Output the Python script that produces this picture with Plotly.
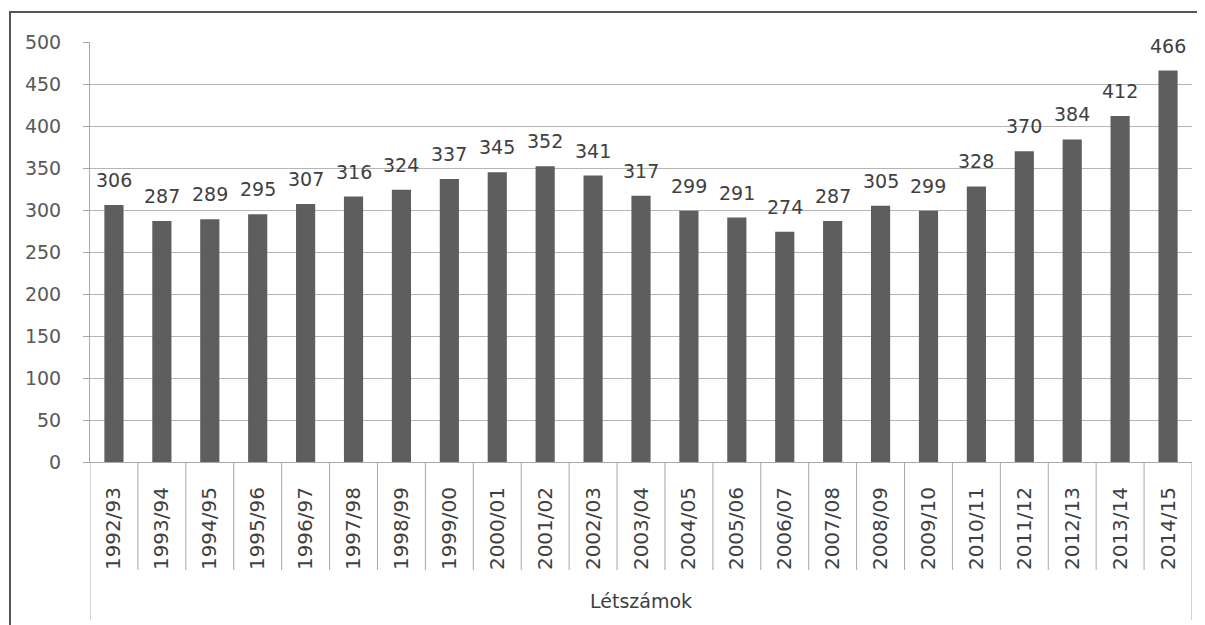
import plotly.graph_objects as go

categories = ["1992/93", "1993/94", "1994/95", "1995/96", "1996/97", "1997/98",
              "1998/99", "1999/00", "2000/01", "2001/02", "2002/03", "2003/04",
              "2004/05", "2005/06", "2006/07", "2007/08", "2008/09", "2009/10",
              "2010/11", "2011/12", "2012/13", "2013/14", "2014/15"]
values = [306, 287, 289, 295, 307, 316, 324, 337, 345, 352, 341, 317,
          299, 291, 274, 287, 305, 299, 328, 370, 384, 412, 466]
group_label = "Létszámok"
y_ticks = [0, 50, 100, 150, 200, 250, 300, 350, 400, 450, 500]

FONT = "DejaVu Sans"
OFF = 8  # page body margin
W, H = 1205 - OFF, 625 - OFF
L, T = 90 - OFF, 42 - OFF
R = W - (1192 - OFF)
B = H - (462 - OFF)
pw = W - L - R
ph = H - T - B

def py(pix):
    # screen pixel y -> paper y
    return (462 - pix) / ph

def pxx(pix):
    # screen pixel x -> paper x
    return (pix - 90) / pw

fig = go.Figure()
fig.add_trace(go.Bar(
    x=categories, y=values,
    marker=dict(color="#5e5e5e", line=dict(width=0)),
))

annotations = []
for c, v in zip(categories, values):
    annotations.append(dict(x=c, y=v, xref="x", yref="y", text=str(v),
                            showarrow=False, xanchor="center", yanchor="bottom",
                            yshift=12,
                            font=dict(family=FONT, size=19, color="#404040")))
annotations.append(dict(text=group_label, xref="paper", yref="paper",
                        x=0.5, y=py(601), xanchor="center", yanchor="middle",
                        showarrow=False,
                        font=dict(family=FONT, size=19, color="#404040")))

shapes = []
n = len(categories)
for i in range(n + 1):
    bottom = py(620) if i in (0, n) else py(570)
    shapes.append(dict(type="line", xref="x", yref="paper",
                       x0=i - 0.5, x1=i - 0.5, y0=0, y1=bottom,
                       line=dict(color="#a8a8a8", width=1)))
# chart frame
shapes.append(dict(type="rect", xref="paper", yref="paper",
                   x0=pxx(10), x1=pxx(1215),
                   y0=py(660), y1=py(12),
                   line=dict(color="#555555", width=2)))

fig.update_layout(
    width=W, height=H,
    margin=dict(l=L, r=R, t=T, b=B, autoexpand=False),
    paper_bgcolor="white", plot_bgcolor="white",
    bargap=0.6,
    showlegend=False,
    shapes=shapes,
    annotations=annotations,
    xaxis=dict(
        type="category", tickangle=-90,
        tickfont=dict(family=FONT, size=20, color="#404040"),
        showline=True, linecolor="#a8a8a8", linewidth=1,
        ticks="outside", ticklen=16, tickcolor="rgba(0,0,0,0)",
        showgrid=False, range=[-0.5, n - 0.5], automargin=False,
    ),
    yaxis=dict(
        range=[0, 500], tickvals=y_ticks,
        tickfont=dict(family=FONT, size=19, color="#595959"),
        showgrid=True, gridcolor="#b5b5b5", gridwidth=1,
        showline=True, linecolor="#a8a8a8", linewidth=1,
        ticks="outside", ticklen=6, tickcolor="#a8a8a8",
        ticklabelstandoff=18,
        zeroline=False, automargin=False,
    ),
)

fig.write_html("out.html")
